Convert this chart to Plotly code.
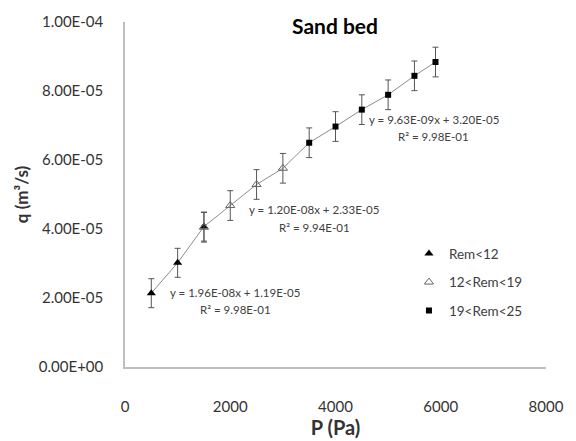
import plotly.graph_objects as go

# Data
P_rem12 = [500, 1000, 1500]
q_rem12 = [2.14e-5, 3.02e-5, 4.07e-5]
err_rem12 = [4.2e-6, 4.2e-6, 4.2e-6]

P_rem19 = [1500, 2000, 2500, 3000]
q_rem19 = [4.05e-5, 4.68e-5, 5.29e-5, 5.76e-5]
err_rem19 = [4.3e-6, 4.3e-6, 4.3e-6, 4.3e-6]

P_rem25 = [3500, 4000, 4500, 5000, 5500, 5900]
q_rem25 = [6.50e-5, 6.97e-5, 7.46e-5, 7.89e-5, 8.44e-5, 8.84e-5]
err_rem25 = [4.3e-6, 4.3e-6, 4.3e-6, 4.3e-6, 4.3e-6, 4.3e-6]

y_tickvals = [0, 2e-5, 4e-5, 6e-5, 8e-5, 1e-4]
y_ticktext = ["0.00E+00", "2.00E-05", "4.00E-05", "6.00E-05", "8.00E-05", "1.00E-04"]
x_tickvals = [0, 2000, 4000, 6000, 8000]
x_ticktext = ["0", "2000", "4000", "6000", "8000"]

eq_text = [
    ("y = 9.63E-09x + 3.20E-05", "R\u00b2 = 9.98E-01"),
    ("y = 1.20E-08x + 2.33E-05", "R\u00b2 = 9.94E-01"),
    ("y = 1.96E-08x + 1.19E-05", "R\u00b2 = 9.98E-01"),
]

FONT = "Lato, 'Open Sans', sans-serif"
L, R, T, B = 125, 552, 22, 373
fig = go.Figure()

# connecting gray line through all points
allP = P_rem12 + P_rem19[1:] + P_rem25
allq = q_rem12 + q_rem19[1:] + q_rem25
fig.add_trace(go.Scatter(x=allP, y=allq, mode="lines",
                         line=dict(color="#8c8c8c", width=1), showlegend=False, hoverinfo="skip"))

def err(a):
    return dict(type="data", array=a, visible=True, color="#555555", thickness=1, width=3)

fig.add_trace(go.Scatter(x=P_rem12, y=q_rem12, mode="markers", name="Rem<12", legendgroup="a",
                         error_y=err(err_rem12),
                         marker=dict(symbol="triangle-up", size=8, color="black")))
fig.add_trace(go.Scatter(x=P_rem19, y=q_rem19, mode="markers", name="12<Rem<19", legendgroup="b",
                         error_y=err(err_rem19),
                         marker=dict(symbol="triangle-up-open", size=8, color="#666666", line=dict(width=1))))
fig.add_trace(go.Scatter(x=P_rem25, y=q_rem25, mode="markers", name="19<Rem<25", legendgroup="c",
                         error_y=err(err_rem25),
                         marker=dict(symbol="square", size=6, color="black")))

ann_font = dict(family=FONT, size=11.5, color="#404040")

def add_eq(xpx, ypx1, line1, line2):
    fig.add_annotation(xref="paper", yref="paper",
                       x=(xpx - L) / (R - L), y=1 - (ypx1 - T) / (B - T),
                       text=line1, showarrow=False, font=ann_font, xanchor="center", yanchor="middle")
    fig.add_annotation(xref="paper", yref="paper",
                       x=(xpx - L) / (R - L), y=1 - (ypx1 + 18 - T) / (B - T),
                       text=line2, showarrow=False, font=ann_font, xanchor="center", yanchor="middle")

add_eq(438, 121, *eq_text[0])
add_eq(317, 213, *eq_text[1])
add_eq(237, 297, *eq_text[2])

fig.update_layout(
    width=576, height=441,
    margin=dict(l=L, r=576 - R, t=T, b=441 - B),
    paper_bgcolor="white", plot_bgcolor="white",
    font=dict(family=FONT, size=12, color="#404040"),
    title=dict(text="<b>Sand bed</b>", x=335 / 576, xanchor="center", y=1 - 27 / 441, yanchor="middle",
               font=dict(family=FONT, size=21, color="black")),
    showlegend=True,
    legend=dict(x=(413 - L) / (R - L), y=1 - (242 - T) / (B - T), xanchor="left", yanchor="top",
                font=dict(family=FONT, size=13.5, color="#404040"), tracegroupgap=8,
                bgcolor="rgba(0,0,0,0)"),
    xaxis=dict(range=[0, 8000], tickvals=x_tickvals, ticktext=x_ticktext, showgrid=False, zeroline=False,
               showline=True, linecolor="#bfbfbf", linewidth=1.5, ticks="", ticklabelstandoff=25,
               tickfont=dict(family=FONT, size=15, color="#333333"),
               title=dict(text="<b>P (Pa)</b>", font=dict(family=FONT, size=20, color="#333333"), standoff=0)),
    yaxis=dict(range=[0, 1e-4], tickvals=y_tickvals, ticktext=y_ticktext, showgrid=False, zeroline=False,
               showline=True, linecolor="#bfbfbf", linewidth=1.5, ticks="", ticklabelstandoff=17,
               tickfont=dict(family=FONT, size=15, color="#333333"),
               title=dict(text="<b>q (m\u00b3/s)</b>", font=dict(family=FONT, size=17, color="#333333"), standoff=6)),
)

fig.write_html("out.html")
